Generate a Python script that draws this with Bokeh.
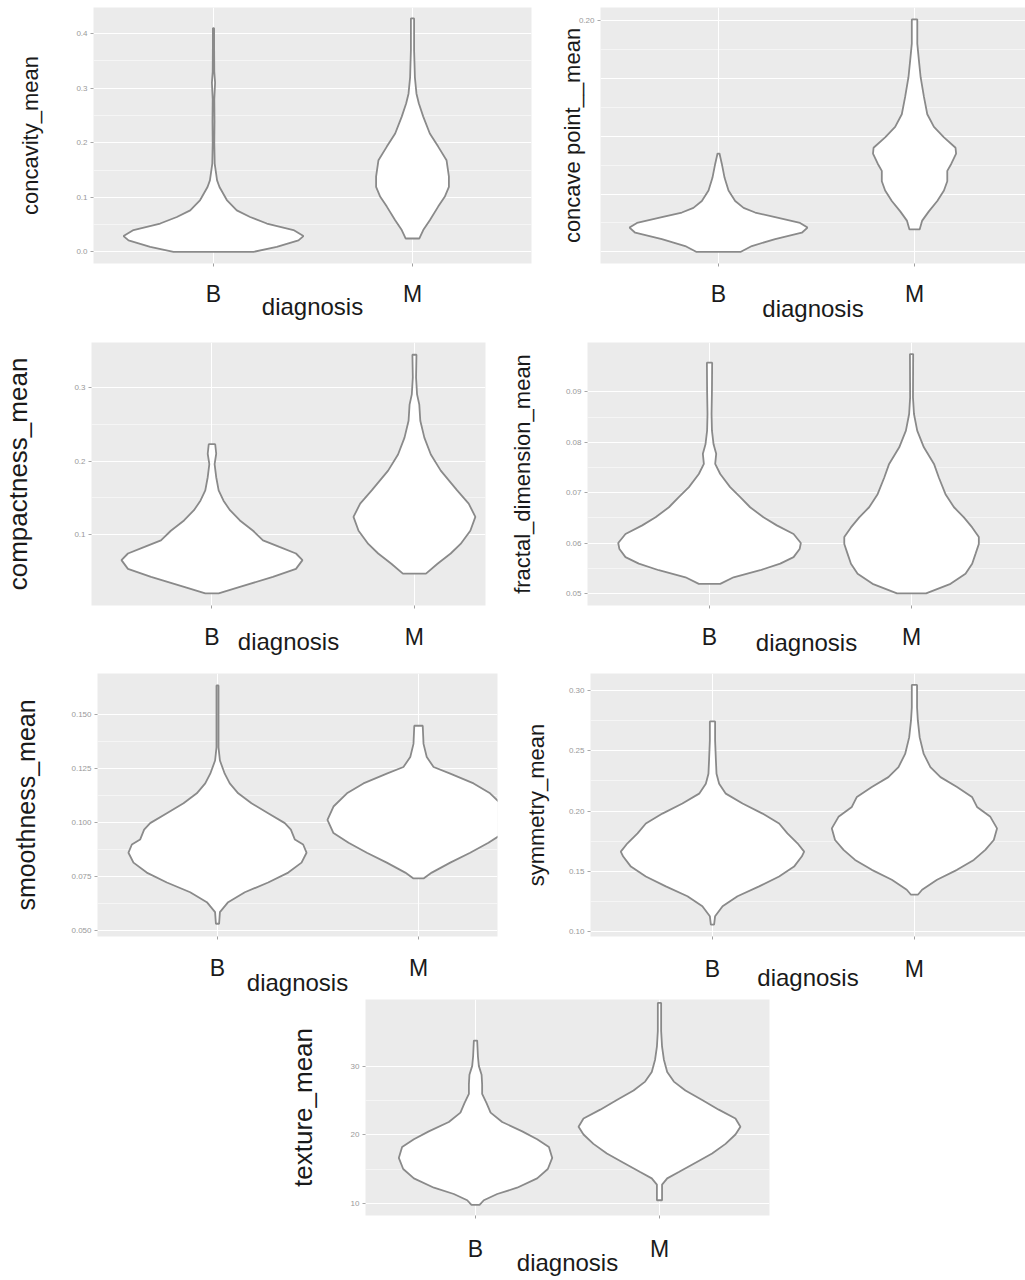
from bokeh.plotting import figure
from bokeh.layouts import column, row
from bokeh.models import Range1d, FixedTicker, Spacer, PrintfTickFormatter
from bokeh.embed import file_html
from bokeh.resources import INLINE

categories = ["B", "M"]
x_title = "diagnosis"

# ---- concavity_mean (value, half-width of violin) ----
concavity_B_y = [0.000, 0.009, 0.021, 0.029, 0.040, 0.052, 0.064, 0.076, 0.095, 0.119, 0.131, 0.162, 0.200, 0.240, 0.280, 0.310, 0.330, 0.380, 0.410]
concavity_B_w = [0.201, 0.318, 0.427, 0.452, 0.402, 0.268, 0.184, 0.117, 0.067, 0.030, 0.018, 0.006, 0.004, 0.005, 0.004, 0.008, 0.004, 0.003, 0.003]
concavity_M_y = [0.0245, 0.040, 0.058, 0.083, 0.101, 0.119, 0.138, 0.168, 0.193, 0.217, 0.248, 0.272, 0.290, 0.320, 0.370, 0.428]
concavity_M_w = [0.034, 0.054, 0.087, 0.129, 0.162, 0.183, 0.183, 0.171, 0.129, 0.087, 0.054, 0.032, 0.020, 0.012, 0.008, 0.008]
concavity_ticks = [0.0, 0.1, 0.2, 0.3, 0.4]

# ---- concave point__mean ----
concave_B_y = [0.000, 0.005, 0.011, 0.0165, 0.021, 0.025, 0.030, 0.034, 0.038, 0.044, 0.053, 0.064, 0.076, 0.085]
concave_B_w = [0.114, 0.170, 0.289, 0.425, 0.454, 0.416, 0.289, 0.187, 0.128, 0.085, 0.051, 0.031, 0.017, 0.005]
concave_M_y = [0.0194, 0.027, 0.035, 0.044, 0.053, 0.061, 0.070, 0.076, 0.085, 0.090, 0.099, 0.108, 0.119, 0.134, 0.151, 0.166, 0.180, 0.201]
concave_M_w = [0.026, 0.039, 0.073, 0.116, 0.150, 0.167, 0.167, 0.187, 0.212, 0.209, 0.150, 0.099, 0.065, 0.048, 0.031, 0.022, 0.014, 0.014]
concave_ticks = [0.20]
concave_grid = [0.0, 0.05, 0.10, 0.15, 0.20]

# ---- compactness_mean ----
compact_B_y = [0.0195, 0.0285, 0.042, 0.053, 0.065, 0.074, 0.083, 0.092, 0.105, 0.119, 0.133, 0.146, 0.160, 0.178, 0.196, 0.210, 0.223]
compact_B_w = [0.033, 0.138, 0.301, 0.415, 0.447, 0.415, 0.333, 0.252, 0.203, 0.138, 0.089, 0.057, 0.033, 0.021, 0.013, 0.021, 0.016]
compact_M_y = [0.0466, 0.060, 0.074, 0.087, 0.105, 0.124, 0.142, 0.160, 0.187, 0.209, 0.232, 0.255, 0.277, 0.291, 0.314, 0.345]
compact_M_w = [0.057, 0.114, 0.179, 0.228, 0.276, 0.301, 0.268, 0.211, 0.130, 0.081, 0.049, 0.029, 0.024, 0.013, 0.008, 0.010]
compact_ticks = [0.1, 0.2, 0.3]

# ---- fractal_dimension_mean ----
fractal_B_y = [0.0519, 0.0532, 0.0546, 0.0559, 0.0572, 0.0588, 0.0600, 0.0618, 0.0635, 0.0651, 0.0671, 0.0691, 0.0711, 0.0737, 0.0757, 0.0777, 0.0796, 0.0823, 0.0856, 0.0902, 0.0958]
fractal_B_w = [0.053, 0.119, 0.251, 0.350, 0.416, 0.446, 0.452, 0.416, 0.333, 0.267, 0.201, 0.152, 0.102, 0.053, 0.028, 0.033, 0.020, 0.012, 0.010, 0.012, 0.013]
fractal_M_y = [0.0500, 0.0519, 0.0539, 0.0559, 0.0579, 0.0598, 0.0612, 0.0631, 0.0651, 0.0671, 0.0697, 0.0730, 0.0757, 0.0790, 0.0823, 0.0856, 0.0889, 0.0975]
fractal_M_w = [0.072, 0.193, 0.267, 0.300, 0.317, 0.333, 0.333, 0.300, 0.259, 0.210, 0.168, 0.135, 0.111, 0.061, 0.028, 0.012, 0.007, 0.008]
fractal_ticks = [0.05, 0.06, 0.07, 0.08, 0.09]

# ---- smoothness_mean ----
smooth_B_y = [0.0530, 0.0584, 0.0630, 0.0676, 0.0721, 0.0767, 0.0813, 0.0859, 0.0897, 0.0920, 0.0966, 0.0996, 0.1042, 0.1088, 0.1134, 0.1180, 0.1225, 0.1286, 0.1347, 0.1390, 0.1634]
smooth_B_w = [0.008, 0.012, 0.053, 0.136, 0.252, 0.352, 0.418, 0.443, 0.426, 0.385, 0.365, 0.335, 0.252, 0.169, 0.103, 0.061, 0.036, 0.012, 0.005, 0.005, 0.005]
smooth_M_y = [0.0740, 0.0767, 0.0813, 0.0859, 0.0905, 0.0950, 0.1011, 0.1073, 0.1134, 0.1180, 0.1225, 0.1256, 0.1302, 0.1363, 0.1447]
smooth_M_w = [0.025, 0.066, 0.158, 0.257, 0.348, 0.423, 0.453, 0.423, 0.356, 0.274, 0.158, 0.075, 0.041, 0.025, 0.021]
smooth_ticks = [0.050, 0.075, 0.100, 0.125, 0.150]

# ---- symmetry_mean ----
symm_B_y = [0.1060, 0.1129, 0.1211, 0.1294, 0.1376, 0.1458, 0.1540, 0.1623, 0.1664, 0.1733, 0.1815, 0.1897, 0.1979, 0.2062, 0.2144, 0.2226, 0.2309, 0.2418, 0.2583, 0.2742]
symm_B_w = [0.008, 0.013, 0.050, 0.124, 0.231, 0.330, 0.404, 0.442, 0.454, 0.421, 0.371, 0.330, 0.248, 0.149, 0.066, 0.033, 0.020, 0.017, 0.013, 0.013]
symm_M_y = [0.1307, 0.1348, 0.1431, 0.1513, 0.1595, 0.1678, 0.1760, 0.1856, 0.1952, 0.2034, 0.2117, 0.2199, 0.2281, 0.2364, 0.2473, 0.2610, 0.2748, 0.2857, 0.3044]
symm_M_w = [0.017, 0.038, 0.112, 0.211, 0.294, 0.351, 0.393, 0.409, 0.376, 0.310, 0.285, 0.211, 0.129, 0.079, 0.046, 0.026, 0.017, 0.013, 0.013]
symm_ticks = [0.10, 0.15, 0.20, 0.25, 0.30]

# ---- texture_mean ----
texture_B_y = [9.77, 10.46, 11.37, 12.29, 13.66, 15.03, 16.64, 18.24, 19.38, 20.53, 21.90, 23.27, 24.65, 26.00, 27.40, 28.80, 30.10, 31.50, 33.80]
texture_B_w = [0.022, 0.045, 0.118, 0.226, 0.335, 0.393, 0.417, 0.399, 0.335, 0.254, 0.145, 0.082, 0.060, 0.036, 0.036, 0.033, 0.018, 0.013, 0.009]
texture_M_y = [10.46, 12.75, 13.66, 14.58, 15.95, 17.30, 18.70, 20.07, 21.20, 22.40, 23.70, 25.10, 26.50, 27.80, 29.20, 31.00, 32.90, 35.20, 39.30]
texture_M_w = [0.014, 0.014, 0.042, 0.105, 0.196, 0.286, 0.359, 0.413, 0.440, 0.413, 0.322, 0.232, 0.141, 0.078, 0.042, 0.024, 0.014, 0.009, 0.009]
texture_ticks = [10, 20, 30]

FONT = "Liberation Sans"
BG = "#EBEBEB"
OUTLINE = "#8a8a8a"


def violin_coords(center, ys, ws):
    xs = [center - w for w in ws] + [center + w for w in reversed(ws)]
    yy = list(ys) + list(reversed(ys))
    return xs, yy


def make_panel(spec):
    p = figure(width=spec["width"], height=spec["height"], title=None,
               x_range=Range1d(*spec["xr"]), y_range=Range1d(*spec["yr"]),
               output_backend="svg", toolbar_location=None,
               min_border_left=spec["bl"], min_border_right=spec["br"],
               min_border_top=spec["bt"], min_border_bottom=spec["bb"])
    p.background_fill_color = BG
    p.border_fill_color = "white"
    p.outline_line_color = None

    # x axis (discrete diagnosis)
    xa = p.xaxis[0]
    xa.ticker = FixedTicker(ticks=[1, 2])
    xa.major_label_overrides = {1: categories[0], 2: categories[1]}
    xa.major_label_text_font = FONT
    xa.major_label_text_font_size = "23px"
    xa.major_label_text_color = "#1a1a1a"
    xa.major_label_standoff = spec["xls"]
    xa.major_tick_out = 3
    xa.major_tick_in = 0
    xa.major_tick_line_color = "#a0a0a0"
    xa.minor_tick_line_color = None
    xa.axis_line_color = None
    xa.axis_label = x_title
    xa.axis_label_text_font = FONT
    xa.axis_label_text_font_size = "24px"
    xa.axis_label_text_font_style = "normal"
    xa.axis_label_text_color = "#1a1a1a"
    xa.axis_label_standoff = spec["xas"]

    # y axis
    ya = p.yaxis[0]
    ya.ticker = FixedTicker(ticks=spec["ticks"])
    ya.formatter = PrintfTickFormatter(format=spec["fmt"])
    ya.major_label_text_font = FONT
    ya.major_label_text_font_size = "8px"
    ya.major_label_text_color = "#999999"
    ya.major_label_standoff = 3
    ya.major_tick_out = 3
    ya.major_tick_in = 0
    ya.major_tick_line_color = "#a8a8a8"
    ya.minor_tick_line_color = None
    ya.axis_line_color = None
    ya.axis_label = spec["label"]
    ya.axis_label_text_font = FONT
    ya.axis_label_text_font_size = spec["lfs"]
    ya.axis_label_text_font_style = "normal"
    ya.axis_label_text_color = "#1a1a1a"
    ya.axis_label_standoff = spec["yas"]

    grid_ticks = spec.get("grid", spec["ticks"])
    minor = [(a + b) / 2 for a, b in zip(grid_ticks[:-1], grid_ticks[1:])]
    p.ygrid.ticker = FixedTicker(ticks=grid_ticks, minor_ticks=minor)
    p.ygrid.grid_line_color = "white"
    p.ygrid.grid_line_width = 1.1
    p.ygrid.minor_grid_line_color = "white"
    p.ygrid.minor_grid_line_width = 0.5
    p.xgrid.grid_line_color = "white"
    p.xgrid.grid_line_width = 1.1

    for center, (ys, ws) in zip([1, 2], spec["violins"]):
        xs, yy = violin_coords(center, ys, ws)
        p.patch(xs, yy, fill_color="white", line_color=OUTLINE, line_width=1.8)
    return p


specs = [
    dict(label="concavity_mean", lfs="22px", yas=30, ticks=concavity_ticks, fmt="%.1f",
         violins=[(concavity_B_y, concavity_B_w), (concavity_M_y, concavity_M_w)],
         width=545, height=330, bl=93, br=14, bt=7, bb=67, xr=(0.397, 2.598), yr=(-0.0213, 0.448),
         xls=14, xas=-17),
    dict(label="concave point__mean", lfs="22px", yas=-9, ticks=concave_ticks, grid=concave_grid, fmt="%.2f",
         violins=[(concave_B_y, concave_B_w), (concave_M_y, concave_M_w)],
         width=480, height=330, bl=55, br=0, bt=7, bb=67, xr=(0.398, 2.566), yr=(-0.0101, 0.2113),
         xls=14, xas=-15),
    dict(label="compactness_mean", lfs="26px", yas=38, ticks=compact_ticks, fmt="%.1f",
         violins=[(compact_B_y, compact_B_w), (compact_M_y, compact_M_w)],
         width=495, height=330, bl=86, br=10, bt=12, bb=55, xr=(0.405, 2.351), yr=(0.0031, 0.3617),
         xls=15, xas=-25),
    dict(label="fractal_dimension_mean", lfs="22px", yas=28, ticks=fractal_ticks, fmt="%.2f",
         violins=[(fractal_B_y, fractal_B_w), (fractal_M_y, fractal_M_w)],
         width=530, height=330, bl=92, br=0, bt=12, bb=55, xr=(0.396, 2.564), yr=(0.0476, 0.0998),
         xls=15, xas=-24),
    dict(label="smoothness_mean", lfs="25px", yas=28, ticks=smooth_ticks, fmt="%.3f",
         violins=[(smooth_B_y, smooth_B_w), (smooth_M_y, smooth_M_w)],
         width=505, height=339, bl=97, br=8, bt=13, bb=63, xr=(0.403, 2.393), yr=(0.0471, 0.1689),
         xls=15, xas=-15),
    dict(label="symmetry_mean", lfs="22px", yas=17, ticks=symm_ticks, fmt="%.2f",
         violins=[(symm_B_y, symm_B_w), (symm_M_y, symm_M_w)],
         width=520, height=339, bl=85, br=0, bt=13, bb=63, xr=(0.396, 2.55), yr=(0.0961, 0.3139),
         xls=16, xas=-21),
    dict(label="texture_mean", lfs="26px", yas=30, ticks=texture_ticks, fmt="%d",
         violins=[(texture_B_y, texture_B_w), (texture_M_y, texture_M_w)],
         width=499, height=280, bl=85, br=10, bt=0, bb=64, xr=(0.402, 2.598), yr=(8.23, 39.8),
         xls=17, xas=-16),
]

panels = [make_panel(s) for s in specs]

layout = column(
    row(panels[0], panels[1]),
    row(panels[2], panels[3]),
    row(panels[4], panels[5]),
    row(Spacer(width=280, height=280), panels[6]),
)

open("out.html", "w").write(file_html(layout, INLINE))
